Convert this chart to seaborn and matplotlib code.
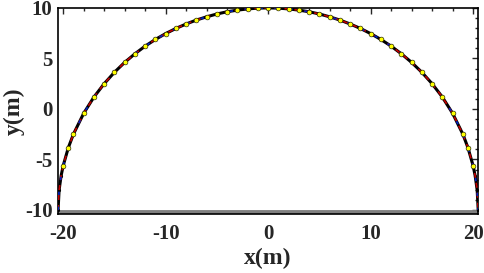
import numpy as np
import pandas as pd
import matplotlib
matplotlib.use("Agg")
import matplotlib.pyplot as plt
import seaborn as sns
from matplotlib.ticker import MultipleLocator

# Values: half circle path (x, y in metres)
X_HALF = [-20.5, -20.4, -20.2, -20.0, -19.5, -19.0, -18.0, -17.0, -16.0, -15.0,
          -14.0, -13.0, -12.0, -11.0, -10.0, -9.0, -8.0, -7.0, -6.0, -5.0,
          -4.0, -3.0, -2.0, -1.0, 0.0]
Y_HALF = [-10.0, -8.03, -6.59, -5.61, -3.83, -2.49, -0.43, 1.18, 2.50, 3.63,
          4.61, 5.46, 6.22, 6.88, 7.46, 7.97, 8.41, 8.80, 9.12, 9.40,
          9.62, 9.78, 9.90, 9.98, 10.0]
X_PATH = X_HALF + [-v for v in X_HALF[-2::-1]]
Y_PATH = Y_HALF + Y_HALF[-2::-1]

# bottom edge (gray line)
X_BASE = [-20.5, 20.5]
Y_BASE = [-10.2, -10.2]

TICK_FONTSIZE = 15
LABEL_FONTSIZE = 17

sns.set_style("white")
plt.rcParams["font.family"] = ["Liberation Serif", "DejaVu Serif"]
plt.rcParams["font.weight"] = "bold"
plt.rcParams["axes.unicode_minus"] = False

df = pd.DataFrame({"x": X_PATH, "y": Y_PATH})
df_base = pd.DataFrame({"x": X_BASE, "y": Y_BASE})

fig = plt.figure(figsize=(4.84, 2.73), dpi=100)
ax = fig.add_axes([0.12, 0.216, 0.868, 0.755])

# Gray base line
sns.lineplot(data=df_base, x="x", y="y", color="#808080", linewidth=3.5,
             sort=False, estimator=None, ax=ax, zorder=2)

# Black path with dot markers
sns.lineplot(data=df, x="x", y="y", color="black", linewidth=2.2, marker=".",
             markersize=3, markeredgecolor="black", sort=False, estimator=None,
             ax=ax, zorder=3)
# Red and blue dashed overlays
sns.lineplot(data=df, x="x", y="y", color="#c00000", linewidth=1.2,
             sort=False, estimator=None, ax=ax, zorder=4)
ax.lines[-1].set_dashes([3, 3])
sns.lineplot(data=df, x="x", y="y", color="#0020c0", linewidth=1.2,
             sort=False, estimator=None, ax=ax, zorder=5)
ax.lines[-1].set_dashes([2, 7])
ax.lines[-1].set_dash_capstyle("butt")

# Yellow markers
sns.scatterplot(data=df.iloc[3:-3], x="x", y="y", color="#ffff00", s=12,
                edgecolor="black", linewidth=0.4, ax=ax, zorder=6)

ax.set_xlim(-20.5, 20.5)
ax.set_ylim(-10.4, 10)
ax.xaxis.set_major_locator(MultipleLocator(10))
ax.xaxis.set_minor_locator(MultipleLocator(2))
ax.yaxis.set_major_locator(MultipleLocator(5))
ax.yaxis.set_minor_locator(MultipleLocator(1))
ax.tick_params(which="both", direction="in", top=True, right=True,
               labelsize=TICK_FONTSIZE, width=1)
ax.tick_params(which="major", length=4)
ax.tick_params(which="minor", length=2)
ax.tick_params(axis="x", pad=7)
ax.tick_params(axis="y", pad=4)
for lbl in ax.get_xticklabels() + ax.get_yticklabels():
    lbl.set_fontweight("bold")
for sp in ax.spines.values():
    sp.set_linewidth(1.2)
    sp.set_color("black")

ax.set_xlabel("x(m)", fontsize=LABEL_FONTSIZE, fontweight="bold", labelpad=3)
ax.set_ylabel("y(m)", fontsize=LABEL_FONTSIZE, fontweight="bold", labelpad=0)

fig.savefig("out.png", dpi=100)
